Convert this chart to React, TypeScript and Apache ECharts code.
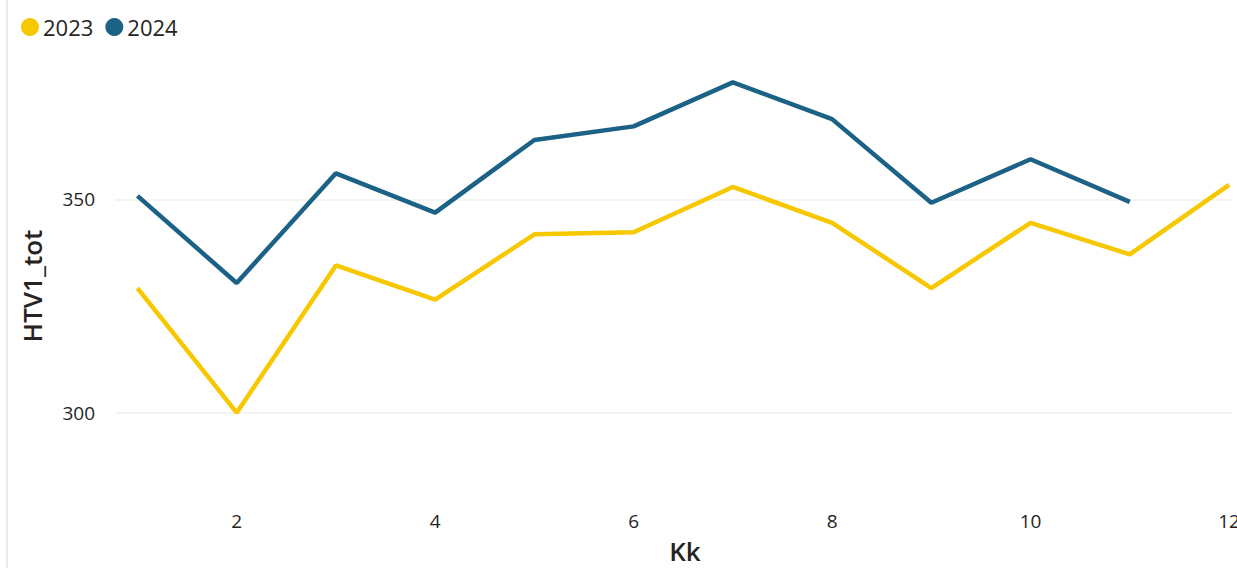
import React, { useEffect, useRef } from "react";
import * as echarts from "echarts";

const weeks = [1, 2, 3, 4, 5, 6, 7, 8, 9, 10, 11, 12];
const values2023 = [329.2, 300.0, 334.5, 326.5, 341.8, 342.3, 352.9, 344.5, 329.2, 344.5, 337.1, 353.4];
const values2024 = [350.8, 330.4, 356.1, 346.9, 363.9, 367.1, 377.4, 368.8, 349.2, 359.4, 349.4];
const xTickValues = [2, 4, 6, 8, 10, 12];
const yTickValues = [300, 350];
const seriesNames = ["2023", "2024"];

const FONT = "'Segoe UI', 'Open Sans', 'DejaVu Sans', sans-serif";

export default function App() {
  const ref = useRef<HTMLDivElement>(null);
  useEffect(() => {
    document.body.style.margin = "0";
    const chart = echarts.init(ref.current!, null, { renderer: "svg" });
    const toPairs = (arr: number[]) => arr.map((v, i) => [weeks[i], v]);
    chart.setOption({
      animation: false,
      backgroundColor: "#ffffff",
      graphic: [
        {
          type: "rect",
          shape: { x: 6, y: 0, width: 2, height: 568 },
          style: { fill: "#e8e8e8" },
        },
      ],
      legend: {
        left: 16,
        top: 11,
        icon: "circle",
        itemWidth: 18,
        itemHeight: 18,
        itemGap: 12,
        textStyle: { fontFamily: FONT, fontSize: 22, color: "#252423", padding: [0, 0, 0, -1] },
        data: seriesNames,
      },
      grid: { left: 115, right: 4, top: 50, bottom: 70, containLabel: false, outerBoundsMode: "none" },
      xAxis: {
        type: "value",
        min: 0.774,
        max: 12.04,
        name: "Kk",
        nameLocation: "middle",
        nameGap: 40,
        nameTextStyle: { fontFamily: FONT, fontSize: 26, fontWeight: 600, color: "#252423", padding: [0, 0, 0, 22] },
        axisLine: { show: false },
        axisTick: { show: false, customValues: xTickValues },
        splitLine: { show: false },
        axisLabel: {
          customValues: xTickValues,
          fontFamily: FONT,
          fontSize: 19,
          color: "#252423",
          margin: 13,
        },
      },
      yAxis: {
        type: "value",
        min: 280,
        max: 385,
        name: "HTV1_tot",
        nameLocation: "middle",
        nameGap: 70,
        nameTextStyle: { fontFamily: FONT, fontSize: 26, fontWeight: 600, color: "#252423", padding: [0, 24, 0, 0] },
        axisLine: { show: false },
        axisTick: { show: false, customValues: yTickValues },
        splitLine: { show: true, lineStyle: { color: "#f0f0f0", width: 1.5 } },
        axisLabel: {
          customValues: yTickValues,
          fontFamily: FONT,
          fontSize: 19,
          color: "#252423",
          margin: 20,
        },
      },
      series: [
        {
          name: "2023",
          type: "line",
          data: toPairs(values2023),
          showSymbol: false,
          symbol: "circle",
          itemStyle: { color: "#F7C700" },
          lineStyle: { color: "#F7C700", width: 4.5 },
        },
        {
          name: "2024",
          type: "line",
          data: toPairs(values2024),
          showSymbol: false,
          symbol: "circle",
          itemStyle: { color: "#1B6286" },
          lineStyle: { color: "#1B6286", width: 4.5 },
        },
      ],
    });
    return () => chart.dispose();
  }, []);
  return <div ref={ref} style={{ width: 1237, height: 568 }} />;
}
